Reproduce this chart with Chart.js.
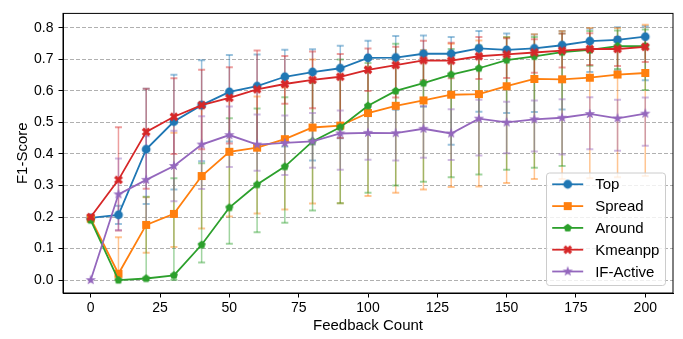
<!doctype html>
<html lang="en">
<head>
    <meta charset="UTF-8">
    <title>F1-Score vs Feedback Count</title>
    <script src="https://cdn.jsdelivr.net/npm/chart.js"></script>
    <style>
        html, body { margin: 0; padding: 0; background: #fff; overflow: hidden; }
        canvas { display: block; }
    </style>
</head>
<body>
<canvas id="f1" width="683" height="339"></canvas>
<script>
  const feedback = [0, 10, 20, 30, 40, 50, 60, 70, 80, 90, 100, 110, 120, 130, 140, 150, 160, 170, 180, 190, 200];
  const xTicks = [0, 25, 50, 75, 100, 125, 150, 175, 200];
  const yTicks = [0, 0.1, 0.2, 0.3, 0.4, 0.5, 0.6, 0.7, 0.8];

  const topF1 = [0.197, 0.207, 0.415, 0.503, 0.555, 0.597, 0.615, 0.645, 0.66, 0.672, 0.705, 0.706, 0.718, 0.718, 0.735, 0.73, 0.735, 0.745, 0.758, 0.762, 0.772];
  const topLow = [0.197, 0.178, 0.241, 0.287, 0.377, 0.44, 0.42, 0.424, 0.379, 0.45, 0.55, 0.54, 0.55, 0.429, 0.534, 0.53, 0.533, 0.541, 0.66, 0.665, 0.634];
  const topHigh = [0.197, 0.236, 0.607, 0.651, 0.697, 0.714, 0.716, 0.731, 0.732, 0.743, 0.759, 0.774, 0.776, 0.771, 0.79, 0.782, 0.779, 0.79, 0.797, 0.802, 0.805];

  const spreadF1 = [0.195, 0.02, 0.175, 0.21, 0.33, 0.407, 0.42, 0.447, 0.484, 0.49, 0.53, 0.553, 0.57, 0.588, 0.59, 0.615, 0.638, 0.637, 0.642, 0.652, 0.657];
  const spreadLow = [0.195, 0, 0.087, 0.105, 0.164, 0.202, 0.211, 0.224, 0.243, 0.244, 0.267, 0.277, 0.287, 0.295, 0.297, 0.308, 0.321, 0.321, 0.323, 0.326, 0.33];
  const spreadHigh = [0.195, 0.136, 0.263, 0.467, 0.55, 0.6, 0.582, 0.611, 0.7, 0.651, 0.677, 0.697, 0.73, 0.75, 0.76, 0.77, 0.78, 0.79, 0.8, 0.8, 0.81];

  const aroundF1 = [0.19, 0.0, 0.005, 0.015, 0.112, 0.23, 0.303, 0.36, 0.44, 0.485, 0.553, 0.6, 0.625, 0.652, 0.672, 0.698, 0.71, 0.723, 0.73, 0.742, 0.742];
  const aroundLow = [0.19, 0, 0, 0, 0.056, 0.115, 0.152, 0.182, 0.221, 0.244, 0.277, 0.3, 0.312, 0.326, 0.335, 0.35, 0.356, 0.362, 0.68, 0.67, 0.603];
  const aroundHigh = [0.19, 0, 0.264, 0.323, 0.371, 0.513, 0.544, 0.58, 0.626, 0.7, 0.689, 0.75, 0.723, 0.733, 0.744, 0.77, 0.771, 0.782, 0.79, 0.792, 0.795];

  const kmeanppF1 = [0.2, 0.318, 0.47, 0.518, 0.555, 0.578, 0.605, 0.622, 0.635, 0.645, 0.667, 0.682, 0.697, 0.696, 0.71, 0.716, 0.722, 0.728, 0.733, 0.733, 0.74];
  const kmeanppLow = [0.2, 0.157, 0.29, 0.4, 0.415, 0.433, 0.415, 0.559, 0.545, 0.451, 0.6, 0.579, 0.634, 0.64, 0.638, 0.641, 0.658, 0.674, 0.682, 0.679, 0.692];
  const kmeanppHigh = [0.2, 0.485, 0.607, 0.64, 0.667, 0.675, 0.728, 0.711, 0.725, 0.717, 0.735, 0.74, 0.759, 0.753, 0.771, 0.767, 0.764, 0.782, 0.783, 0.771, 0.774];

  const ifActiveF1 = [0.0, 0.272, 0.318, 0.362, 0.43, 0.46, 0.43, 0.435, 0.44, 0.465, 0.467, 0.466, 0.48, 0.465, 0.512, 0.5, 0.51, 0.515, 0.527, 0.513, 0.528];
  const ifActiveLow = [0.0, 0.158, 0.18, 0.25, 0.289, 0.359, 0.347, 0.333, 0.356, 0.35, 0.382, 0.379, 0.388, 0.381, 0.395, 0.402, 0.408, 0.398, 0.415, 0.41, 0.426];
  const ifActiveHigh = [0.0, 0.386, 0.456, 0.474, 0.52, 0.551, 0.525, 0.522, 0.53, 0.538, 0.55, 0.544, 0.552, 0.542, 0.572, 0.566, 0.57, 0.574, 0.58, 0.572, 0.579];

  const font = 'Liberation Sans';

  // marker images, matplotlib style
  function marker(color, draw) {
    const c = document.createElement('canvas');
    c.width = 14;
    c.height = 14;
    const g = c.getContext('2d');
    g.fillStyle = color;
    g.translate(7, 7);
    g.beginPath();
    draw(g);
    g.closePath();
    g.fill();
    return c;
  }

  function polygon(g, n, rOuter, rInner) {
    const pts = rInner ? n * 2 : n;
    for (let i = 0; i < pts; i++) {
      const r = rInner && i % 2 ? rInner : rOuter;
      const a = -Math.PI / 2 + i * 2 * Math.PI / pts;
      const px = r * Math.cos(a), py = r * Math.sin(a);
      if (i === 0) g.moveTo(px, py); else g.lineTo(px, py);
    }
  }

  const series = [
    {
      label: 'Top', color: '#1f77b4', data: topF1, low: topLow, high: topHigh,
      marker: marker('#1f77b4', g => g.arc(0, 0, 4.4, 0, Math.PI * 2))
    },
    {
      label: 'Spread', color: '#ff7f0e', data: spreadF1, low: spreadLow, high: spreadHigh,
      marker: marker('#ff7f0e', g => g.rect(-4, -4, 8, 8))
    },
    {
      label: 'Around', color: '#2ca02c', data: aroundF1, low: aroundLow, high: aroundHigh,
      marker: marker('#2ca02c', g => polygon(g, 5, 4.2))
    },
    {
      label: 'Kmeanpp', color: '#d62728', data: kmeanppF1, low: kmeanppLow, high: kmeanppHigh,
      marker: marker('#d62728', g => {
        const s = 4.6, w = 1.6;
        g.rotate(Math.PI / 4);
        const p = [[-w, -s], [w, -s], [w, -w], [s, -w], [s, w], [w, w], [w, s], [-w, s], [-w, w], [-s, w], [-s, -w], [-w, -w]];
        p.forEach(([a, b], i) => i ? g.lineTo(a, b) : g.moveTo(a, b));
      })
    },
    {
      label: 'IF-Active', color: '#9467bd', data: ifActiveF1, low: ifActiveLow, high: ifActiveHigh,
      marker: marker('#9467bd', g => polygon(g, 5, 5.4, 2.2))
    }
  ];

  function alpha(hex, a) {
    const n = parseInt(hex.slice(1), 16);
    return `rgba(${n >> 16},${(n >> 8) & 255},${n & 255},${a})`;
  }

  const errorBars = {
    id: 'errorBars',
    beforeDatasetsDraw(chart) {
      const {ctx, chartArea, scales: {x, y}} = chart;
      ctx.save();
      ctx.beginPath();
      ctx.rect(chartArea.left, chartArea.top, chartArea.width, chartArea.height);
      ctx.clip();
      series.forEach(s => {
        ctx.strokeStyle = alpha(s.color, 0.45);
        feedback.forEach((fx, i) => {
          if (s.low[i] === s.high[i]) return;
          const px = x.getPixelForValue(fx);
          const y1 = y.getPixelForValue(s.low[i]);
          const y2 = y.getPixelForValue(s.high[i]);
          ctx.lineWidth = 1.5;
          ctx.beginPath();
          ctx.moveTo(px, y1);
          ctx.lineTo(px, y2);
          ctx.stroke();
          ctx.lineWidth = 2;
          ctx.beginPath();
          ctx.moveTo(px - 3.5, y1);
          ctx.lineTo(px + 3.5, y1);
          ctx.moveTo(px - 3.5, y2);
          ctx.lineTo(px + 3.5, y2);
          ctx.stroke();
        });
      });
      ctx.restore();
    }
  };

  const frameAndLegend = {
    id: 'frameAndLegend',
    afterDraw(chart) {
      const {ctx, chartArea} = chart;
      ctx.save();
      ctx.strokeStyle = '#000';
      ctx.lineWidth = 1;
      ctx.strokeRect(chartArea.left, chartArea.top, chartArea.width, chartArea.height);

      const w = 119, h = 112.5;
      const lx = chartArea.right - 7.5 - w;
      const ly = chartArea.bottom - 7.5 - h;
      ctx.beginPath();
      ctx.roundRect(lx, ly, w, h, 3);
      ctx.fillStyle = 'rgba(255,255,255,0.8)';
      ctx.fill();
      ctx.strokeStyle = '#cccccc';
      ctx.stroke();

      ctx.font = `15px "${font}"`;
      ctx.textBaseline = 'middle';
      series.forEach((s, i) => {
        const cy = ly + 11.3 + i * 21.8;
        ctx.strokeStyle = s.color;
        ctx.lineWidth = 1.8;
        ctx.beginPath();
        ctx.moveTo(lx + 5.7, cy);
        ctx.lineTo(lx + 36.7, cy);
        ctx.stroke();
        ctx.drawImage(s.marker, lx + 21.2 - 7, cy - 7);
        ctx.fillStyle = '#000';
        ctx.fillText(s.label, lx + 48.7, cy + 1);
      });
      ctx.restore();
    }
  };

  new Chart(document.getElementById('f1'), {
    type: 'line',
    data: {
      datasets: series.map((s, i) => ({
        label: s.label,
        data: feedback.map((fx, j) => ({x: fx, y: s.data[j]})),
        borderColor: s.color,
        backgroundColor: s.color,
        borderWidth: 1.8,
        pointStyle: s.marker,
        pointRadius: 5,
        tension: 0,
        order: series.length - i
      }))
    },
    options: {
      responsive: false,
      animation: false,
      devicePixelRatio: 1,
      layout: {padding: {top: 5, right: 10, left: 0, bottom: 0}},
      plugins: {legend: {display: false}, tooltip: {enabled: false}},
      scales: {
        x: {
          type: 'linear',
          min: -10,
          max: 210,
          afterBuildTicks: scale => { scale.ticks = xTicks.map(v => ({value: v})); },
          afterFit: scale => { scale.height = 46; },
          grid: {drawOnChartArea: false, drawTicks: true, tickLength: 4.5, tickColor: '#000'},
          border: {display: true, color: '#000', width: 1},
          ticks: {color: '#000', font: {family: font, size: 14}, padding: 2, maxRotation: 0},
          title: {display: true, text: 'Feedback Count', color: '#000', font: {family: font, size: 15}, padding: {top: 0, bottom: 4.3}}
        },
        y: {
          min: -0.041,
          max: 0.846,
          afterBuildTicks: scale => { scale.ticks = yTicks.map(v => ({value: v})); },
          afterFit: scale => { scale.width = 63; },
          grid: {color: '#b0b0b0', lineWidth: 1, drawTicks: true, tickLength: 4.5, tickColor: '#000', tickBorderDash: []},
          border: {display: true, color: '#000', width: 1, dash: [4, 2]},
          ticks: {color: '#000', font: {family: font, size: 14}, padding: 5, callback: v => v.toFixed(1)},
          title: {display: true, text: 'F1-Score', color: '#000', font: {family: font, size: 15}, padding: {top: 14, bottom: 0}}
        }
      }
    },
    plugins: [errorBars, frameAndLegend]
  });
</script>
</body>
</html>
